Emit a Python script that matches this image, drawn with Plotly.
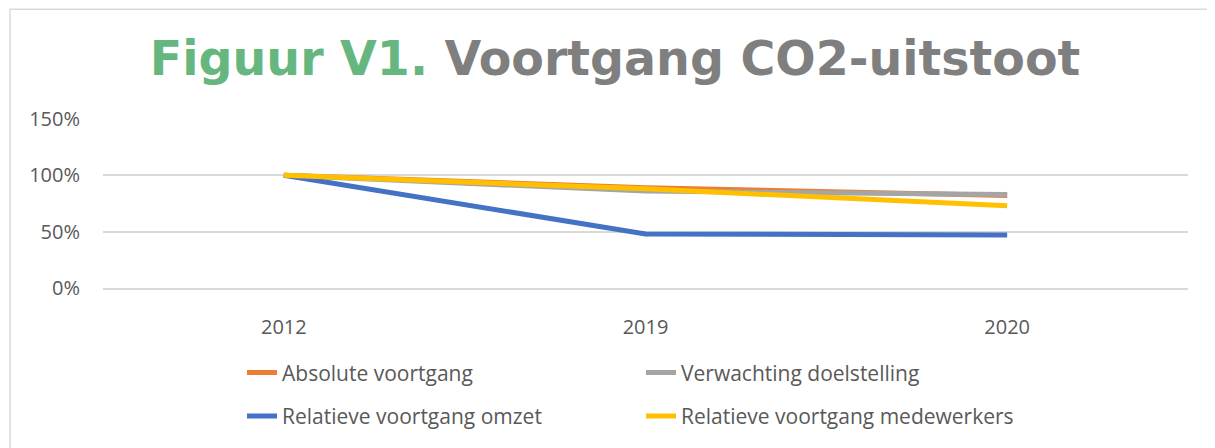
import plotly.graph_objects as go

years = ["2012", "2019", "2020"]
absolute_voortgang = [1.00, 0.89, 0.82]
verwachting_doelstelling = [1.00, 0.86, 0.83]
relatieve_omzet = [1.00, 0.48, 0.47]
relatieve_medewerkers = [1.00, 0.88, 0.73]
y_ticks = [0, 0.5, 1.0, 1.5]
y_tick_labels = ["0%", "50%", "100%", "150%"]

series = [
    ("Absolute voortgang", absolute_voortgang, "#ED7D31", "legend"),
    ("Verwachting doelstelling", verwachting_doelstelling, "#A5A5A5", "legend"),
    ("Relatieve voortgang omzet", relatieve_omzet, "#4472C4", "legend2"),
    ("Relatieve voortgang medewerkers", relatieve_medewerkers, "#FFC000", "legend2"),
]

fig = go.Figure()
for name, vals, color, leg in series:
    fig.add_trace(go.Scatter(x=years, y=vals, name=name, mode="lines", legend=leg,
                             line=dict(color=color, width=5)))

# page has an 8px body margin; figure is placed at (8, 8)
W, H = 1207, 440
L, T, R, B = 95, 111, 27, 158
pw, ph = W - L - R, H - T - B

legend_font = dict(family="Open Sans", size=21, color="#595959")
leg_common = dict(orientation="h", xanchor="left", yanchor="top", x=(234 - L) / pw,
                  entrywidth=354, entrywidthmode="pixels", font=legend_font,
                  bgcolor="rgba(0,0,0,0)")

fig.update_layout(
    width=W, height=H,
    margin=dict(l=L, r=R, t=T, b=B),
    paper_bgcolor="white", plot_bgcolor="white",
    title=dict(
        text="<b><span style='color:#66B77F'>Figuur V1.</span> Voortgang CO2-uitstoot</b>",
        x=607 / W, xanchor="center", y=1 - 50 / H, yanchor="middle",
        font=dict(family="DejaVu Sans", size=47.5, color="#7F7F7F"),
    ),
    xaxis=dict(type="category", range=[-0.5, 2.5], showgrid=False,
               showline=True, linecolor="#D9D9D9", linewidth=1.5,
               zeroline=False, ticks="", ticklabelstandoff=20,
               tickfont=dict(family="Open Sans", size=20, color="#595959")),
    yaxis=dict(range=[0, 1.5], tickvals=y_ticks, ticktext=y_tick_labels,
               showgrid=True, gridcolor="#D9D9D9", gridwidth=1.5, zeroline=False,
               ticks="", ticklabelstandoff=22,
               tickfont=dict(family="Open Sans", size=20, color="#595959")),
    legend=dict(leg_common, y=(H - B - (376 - 8 - 21)) / ph),
    legend2=dict(leg_common, y=(H - B - (420 - 8 - 21)) / ph),
    showlegend=True,
)

fig.add_shape(type="rect", xref="paper", yref="paper",
              x0=(2 - L) / pw, x1=(1240 - L) / pw,
              y0=-(480 - (H - B)) / ph, y1=(H - B) / ph,
              line=dict(color="#D9D9D9", width=1.5), fillcolor="rgba(0,0,0,0)", layer="below")

fig.write_html("out.html")
